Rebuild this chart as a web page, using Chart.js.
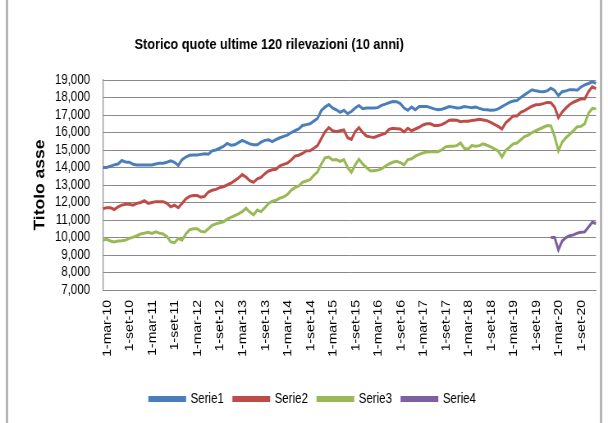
<!DOCTYPE html>
<html>
<head>
<meta charset="utf-8">
<script src="https://cdn.jsdelivr.net/npm/chart.js@4.4.1/dist/chart.umd.min.js"></script>
<style>
html,body{margin:0;padding:0;background:#fff;overflow:hidden;}
</style>
</head>
<body>
<canvas id="c" width="741" height="423" style="display:block;width:608px;height:423px;"></canvas>
<script>
// ---- data ----
const chartTitle = 'Storico quote ultime 120 rilevazioni (10 anni)';
const axisTitle = 'Titolo asse';
const monthNames = ['gen','feb','mar','apr','mag','giu','lug','ago','set','ott','nov','dic'];
const startYear = 2010, startMonth = 2, nMonths = 132; // mar-10 .. feb-21
const categories = [];
for (let i = 0; i < nMonths; i++) {
  const m = (startMonth + i) % 12;
  const y = startYear + Math.floor((startMonth + i) / 12);
  categories.push('1-' + monthNames[m] + '-' + String(y).slice(2));
}
const tickEvery = 6;
const yTicks = [7000,8000,9000,10000,11000,12000,13000,14000,15000,16000,17000,18000,19000];
const seriesNames = ['Serie1','Serie2','Serie3','Serie4'];

const serie1 = [
14000,14000,14080,14150,14200,14400,14320,14300,14180,14150,
14150,14150,14150,14150,14200,14250,14250,14300,14380,14300,
14120,14450,14600,14700,14720,14720,14750,14780,14760,14950,
15000,15100,15200,15380,15270,15300,15420,15550,15450,15350,
15300,15300,15450,15550,15580,15480,15600,15700,15780,15850,
16000,16100,16200,16400,16450,16500,16650,16800,17250,17450,
17600,17400,17300,17150,17270,17080,17200,17400,17540,17360,
17400,17400,17400,17420,17550,17620,17700,17770,17760,17650,
17400,17270,17450,17300,17480,17490,17490,17420,17350,17300,
17330,17400,17480,17450,17400,17420,17480,17450,17420,17450,
17380,17320,17300,17270,17280,17350,17480,17600,17720,17800,
17830,18000,18150,18300,18440,18380,18340,18330,18380,18530,
18400,18100,18330,18380,18450,18450,18420,18600,18720,18800,
18890,18810];

const serie2 = [
11650,11700,11700,11600,11750,11850,11900,11900,11850,11950,
12000,12100,11950,12000,12050,12050,12050,11950,11750,11850,
11700,11950,12200,12350,12400,12400,12300,12350,12600,12700,
12750,12850,12900,13000,13100,13250,13400,13600,13450,13250,
13150,13350,13430,13650,13800,13870,13900,14100,14180,14250,
14420,14650,14700,14800,14950,14960,15100,15250,15650,16050,
16280,16100,16050,16100,16150,15700,15600,16050,16280,16000,
15800,15750,15720,15800,15880,15950,16180,16240,16220,16200,
16030,16240,16100,16200,16300,16430,16500,16500,16400,16400,
16450,16560,16700,16710,16700,16620,16650,16650,16680,16710,
16750,16720,16680,16580,16470,16350,16200,16550,16740,16950,
16950,17150,17250,17380,17500,17580,17600,17650,17720,17700,
17450,16850,17170,17400,17600,17730,17830,17920,17930,18330,
18610,18510];

const serie3 = [
9850,9900,9800,9750,9800,9820,9850,9950,10020,10100,
10200,10250,10300,10230,10320,10250,10200,10050,9750,9700,
9950,9850,10200,10440,10500,10500,10350,10320,10500,10700,
10780,10840,10900,11050,11150,11250,11350,11480,11670,11450,
11300,11570,11480,11700,11950,12080,12130,12250,12320,12450,
12700,12850,12950,13150,13230,13300,13550,13750,14200,14550,
14600,14430,14450,14350,14450,14000,13720,14150,14470,14200,
14000,13820,13810,13850,13920,14070,14200,14300,14350,14280,
14150,14450,14500,14650,14750,14830,14880,14900,14900,14900,
15000,15180,15210,15220,15250,15400,15100,15050,15250,15220,
15250,15350,15270,15180,15060,14950,14600,14980,15160,15350,
15400,15590,15770,15850,16000,16100,16200,16300,16400,16380,
15780,14950,15450,15700,15900,16100,16330,16350,16500,17100,
17380,17350];

const serie4 = [
null,null,null,null,null,null,null,null,null,null,
null,null,null,null,null,null,null,null,null,null,
null,null,null,null,null,null,null,null,null,null,
null,null,null,null,null,null,null,null,null,null,
null,null,null,null,null,null,null,null,null,null,
null,null,null,null,null,null,null,null,null,null,
null,null,null,null,null,null,null,null,null,null,
null,null,null,null,null,null,null,null,null,null,
null,null,null,null,null,null,null,null,null,null,
null,null,null,null,null,null,null,null,null,null,
null,null,null,null,null,null,null,null,null,null,
null,null,null,null,null,null,null,null,null,10000,
10000,9300,9800,10000,10100,10150,10250,10300,10320,10600,
10870,10800];

// ---- styles ----
// The canvas is drawn 741px wide and shown 608px wide (horizontally condensed, like the original picture).
const colors = ['#4A7EBB','#BE4B48','#98B954','#7D60A0'];
const fontFam = "'Liberation Sans', Arial, sans-serif";

const frameAndTitle = {
  id: 'frameAndTitle',
  beforeDraw(chart) {
    const ctx = chart.ctx;
    ctx.save();
    ctx.fillStyle = '#fff';
    ctx.fillRect(0, 0, chart.width, chart.height);
    ctx.strokeStyle = '#a6a6a6';
    ctx.lineWidth = 2.4;
    ctx.beginPath();
    ctx.moveTo(8.5, 0); ctx.lineTo(8.5, chart.height);
    ctx.moveTo(732.5, 0); ctx.lineTo(732.5, chart.height);
    ctx.stroke();
    ctx.restore();
  },
  afterDraw(chart) {
    const ctx = chart.ctx;
    ctx.save();
    ctx.font = "bold 15.5px " + fontFam;
    ctx.fillStyle = '#000';
    ctx.textAlign = 'center';
    ctx.textBaseline = 'middle';
    ctx.fillText(chartTitle, 328, 45);
    ctx.restore();
  }
};

const datasets = [serie1, serie2, serie3, serie4].map((d, k) => ({
  label: seriesNames[k],
  data: d,
  borderColor: colors[k],
  backgroundColor: colors[k],
  borderWidth: 3,
  pointRadius: 0,
  pointHoverRadius: 0,
  tension: 0,
  spanGaps: false,
  fill: false
}));

new Chart(document.getElementById('c'), {
  type: 'line',
  data: { labels: categories, datasets },
  plugins: [frameAndTitle],
  options: {
    responsive: false,
    animation: false,
    devicePixelRatio: 1,
    layout: { padding: { left: 36, right: 14.6, top: 80, bottom: 7 } },
    plugins: {
      title: { display: false },
      tooltip: { enabled: false },
      legend: {
        position: 'bottom',
        labels: {
          boxWidth: 43,
          boxHeight: 3,
          padding: 12,
          color: '#000',
          font: { family: fontFam, size: 14 }
        }
      }
    },
    scales: {
      x: {
        type: 'category',
        offset: false,
        grid: { display: false, drawTicks: false },
        border: { display: true, color: '#888', width: 1 },
        ticks: {
          autoSkip: false,
          maxRotation: 90,
          minRotation: 90,
          padding: 10,
          labelOffset: 5.5,
          color: '#000',
          font: { family: fontFam, size: 14 },
          callback: function(v, i) { return i % tickEvery === 0 ? categories[i] : ''; }
        },
        afterFit(s) { s.height = 90; s.paddingLeft = 0; s.paddingRight = 0; }
      },
      y: {
        min: 7000,
        max: 19000,
        grid: { color: '#8a8a8a', lineWidth: 1, drawTicks: false },
        border: { display: true, color: '#888', width: 1.2 },
        afterBuildTicks(s) { s.ticks = yTicks.map(v => ({ value: v })); },
        ticks: {
          autoSkip: false,
          padding: 15.8,
          color: '#000',
          font: { family: fontFam, size: 14 },
          callback: v => Number(v).toLocaleString('en-US')
        },
        title: {
          display: true,
          text: axisTitle,
          color: '#000',
          font: { family: fontFam, size: 17.5, weight: 'bold' },
          padding: { top: 2.3, bottom: 0 }
        },
        afterFit(s) { s.width = 89.5; }
      }
    }
  }
});
</script>
</body>
</html>
